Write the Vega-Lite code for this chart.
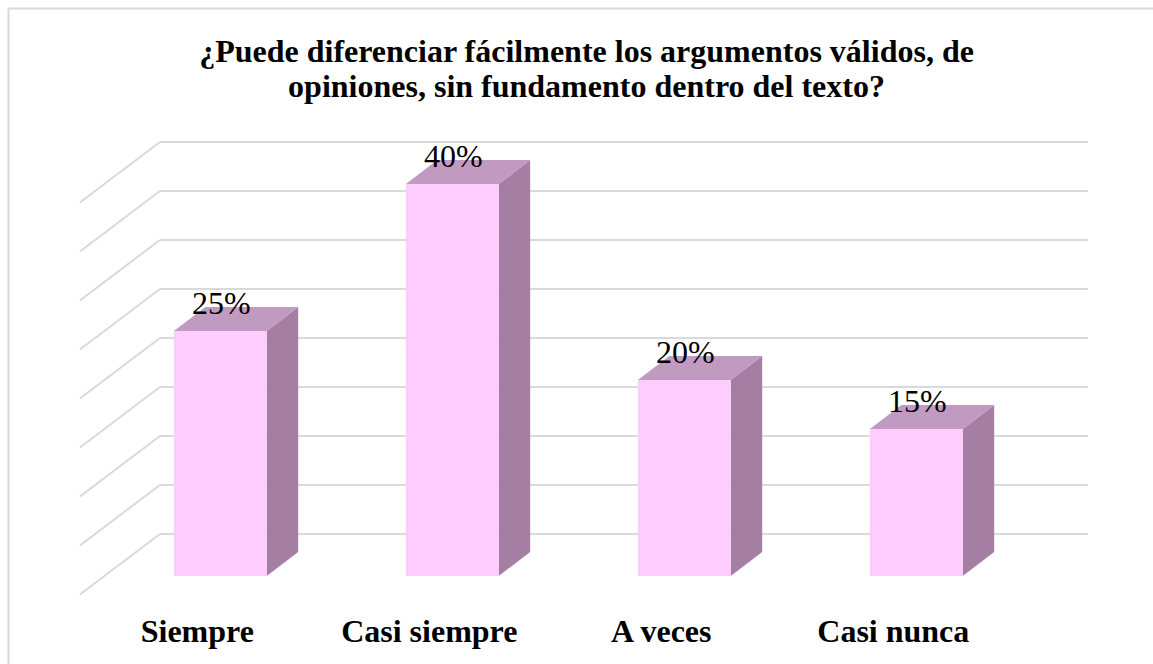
{
"$schema":"https://vega.github.io/schema/vega-lite/v6.json",
"width":1145,"height":656,
"autosize":{"type":"none"},
"padding":{"left":8,"top":8,"right":0,"bottom":0},
"background":"white",
"title":{"text":["¿Puede diferenciar fácilmente los argumentos válidos, de","opiniones, sin fundamento dentro del texto?"],
"font":"Liberation Serif","fontWeight":"bold","fontSize":32,"lineHeight":35,"color":"#000000","anchor":"middle","frame":"group","baseline":"alphabetic","offset":-121,"dx":6},
"config":{"view":{"stroke":null},"axis":{"labels":false,"ticks":false,"grid":false,"title":null,"domainColor":"#d9d9d9","domainWidth":2}},
"datasets":{
"porcentajes":[
{"categoria":"Siempre","orden":0,"valor":25},
{"categoria":"Casi siempre","orden":1,"valor":40},
{"categoria":"A veces","orden":2,"valor":20},
{"categoria":"Casi nunca","orden":3,"valor":15}],
"rejilla":[{"nivel":0},{"nivel":5},{"nivel":10},{"nivel":15},{"nivel":20},{"nivel":25},{"nivel":30},{"nivel":35},{"nivel":40}]
},
"layer":[
{"data":{"name":"rejilla"},
"transform":[{"calculate":"datum.nivel+4.29","as":"yFondo"},{"calculate":"datum.nivel-1.89","as":"yFrente"},{"calculate":"-0.26","as":"xFondo"},{"calculate":"3.74","as":"xFin"},{"calculate":"-0.605","as":"xFrente"}],
"mark":{"type":"rule","color":"#d9d9d9","strokeWidth":2},
"encoding":{
"x":{"field":"xFondo","type":"quantitative","scale":{"domain":[-0.915,4.0203],"nice":false,"zero":false},"axis":{"orient":"top"}},
"x2":{"field":"xFin"},
"y":{"field":"yFondo","type":"quantitative","scale":{"domain":[-8.98,57.96],"nice":false,"zero":false},"axis":{"orient":"left"}}
}},
{"data":{"name":"rejilla"},
"transform":[{"calculate":"datum.nivel+4.29","as":"yFondo"},{"calculate":"datum.nivel-1.89","as":"yFrente"},{"calculate":"-0.26","as":"xFondo"},{"calculate":"-0.605","as":"xFrente"}],
"mark":{"type":"rule","color":"#d9d9d9","strokeWidth":2},
"encoding":{
"x":{"field":"xFrente","type":"quantitative"},
"x2":{"field":"xFondo"},
"y":{"field":"yFrente","type":"quantitative"},
"y2":{"field":"yFondo"}
}},
{"data":{"name":"porcentajes"},
"transform":[{"calculate":"[0,1]","as":"d"},{"flatten":["d"]},
{"calculate":"datum.orden+0.2+0.1358*datum.d","as":"xLado"},
{"calculate":"datum.valor+2.45*datum.d","as":"yAlto"},
{"calculate":"2.45*datum.d","as":"yBajo"}],
"mark":{"type":"area","orient":"vertical","color":"#a47fa3"},
"encoding":{
"detail":{"field":"categoria"},
"x":{"field":"xLado","type":"quantitative"},
"y":{"field":"yAlto","type":"quantitative"},
"y2":{"field":"yBajo"}
}},
{"data":{"name":"porcentajes"},
"transform":[{"calculate":"[0,1,2,3]","as":"k"},{"flatten":["k"]},
{"calculate":"datum.orden-0.2+[0,0.1358,0.4,0.5358][datum.k]","as":"xTapa"},
{"calculate":"datum.valor+(datum.k>0?2.45:0)","as":"yAlto"},
{"calculate":"datum.valor+(datum.k>2?2.45:0)","as":"yBajo"}],
"mark":{"type":"area","orient":"vertical","color":"#c09ac0"},
"encoding":{
"detail":{"field":"categoria"},
"x":{"field":"xTapa","type":"quantitative"},
"y":{"field":"yAlto","type":"quantitative"},
"y2":{"field":"yBajo"}
}},
{"data":{"name":"porcentajes"},
"transform":[{"calculate":"datum.orden-0.2","as":"xIni"},{"calculate":"datum.orden+0.2","as":"xFin"},{"calculate":"0","as":"base"}],
"mark":{"type":"rect","color":"#ffccff"},
"encoding":{
"x":{"field":"xIni","type":"quantitative"},
"x2":{"field":"xFin"},
"y":{"field":"valor","type":"quantitative"},
"y2":{"field":"base"}
}},
{"data":{"name":"porcentajes"},
"transform":[{"calculate":"datum.valor+'%'","as":"etiqueta"}],
"mark":{"type":"text","font":"Liberation Serif","fontSize":32,"color":"#000000","baseline":"alphabetic","align":"center","dy":-17,"dx":1},
"encoding":{
"x":{"field":"orden","type":"quantitative"},
"y":{"field":"valor","type":"quantitative"},
"text":{"field":"etiqueta"}
}},
{"data":{"name":"porcentajes"},
"mark":{"type":"text","font":"Liberation Serif","fontSize":32,"fontWeight":"bold","color":"#000000","baseline":"alphabetic","align":"center","dx":-23},
"encoding":{
"x":{"field":"orden","type":"quantitative"},
"y":{"datum":-6.73,"type":"quantitative"},
"text":{"field":"categoria"}
}}
]
}
